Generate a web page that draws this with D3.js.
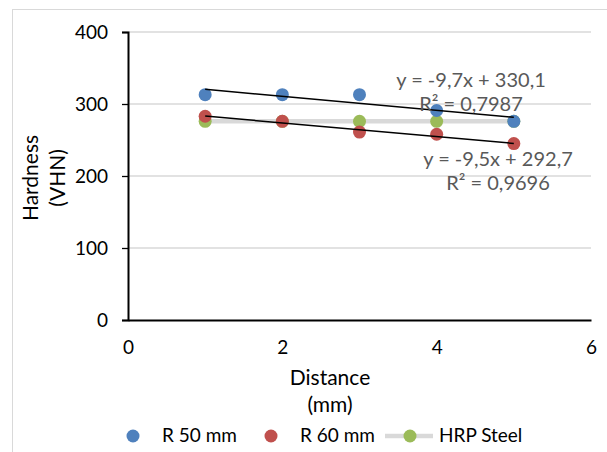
<!DOCTYPE html>
<html>
<head>
<meta charset="utf-8">
<script src="https://cdn.jsdelivr.net/npm/d3@7"></script>
<style>
  body { margin: 0; background: #fff; }
  svg { display: block; }
  text { font-family: Lato, "Open Sans", sans-serif; }
</style>
</head>
<body>
<svg id="chart" width="607" height="452"></svg>
<script>
// data
const distance = [1, 2, 3, 4, 5];
const r50 = [313, 313, 313, 291, 276];
const r60 = [283, 276, 261, 258, 245];
const hrp = [276, 276, 276, 276, 276];
const yTicks = [0, 100, 200, 300, 400];
const xTicks = [0, 2, 4, 6];
// trendlines [slope, intercept]
const trendR50 = [-9.7, 330.1];
const trendR60 = [-9.5, 292.7];
const trendLabels = [
  ["y = -9,7x + 330,1", "R² = 0,7987"],
  ["y = -9,5x + 292,7", "R² = 0,9696"]
];
const legendNames = ["R 50 mm", "R 60 mm", "HRP Steel"];

const colors = { r50: "#4f81bd", r60: "#c0504d", hrp: "#9bbb59" };

const svg = d3.select("#chart");

// outer chart border
svg.append("rect")
  .attr("x", 12.5).attr("y", 9.5)
  .attr("width", 620).attr("height", 460)
  .attr("fill", "none").attr("stroke", "#d9d9d9");

const margin = { left: 128, top: 32, right: 591, bottom: 320 };
const x = d3.scaleLinear().domain([0, 6]).range([margin.left, margin.right]);
const y = d3.scaleLinear().domain([0, 400]).range([margin.bottom, margin.top]);

// gridlines
svg.append("g")
  .selectAll("line")
  .data(yTicks.filter(d => d > 0))
  .join("line")
  .attr("x1", x(0)).attr("x2", x(6))
  .attr("y1", d => y(d)).attr("y2", d => y(d))
  .attr("stroke", "#d9d9d9").attr("stroke-width", 1.3);

// y axis
const yAxis = svg.append("g")
  .attr("transform", `translate(${x(0)},0)`)
  .call(d3.axisLeft(y).tickValues(yTicks).tickSize(6).tickPadding(14));
yAxis.select(".domain").attr("stroke", "#000").attr("stroke-width", 2);
yAxis.selectAll(".tick line").attr("stroke", "#000").attr("stroke-width", 1.3);
yAxis.selectAll(".tick text")
  .attr("font-size", 19).attr("fill", "#000")
  .attr("font-family", "Lato, sans-serif");

// x axis
const xAxis = svg.append("g")
  .attr("transform", `translate(0,${y(0)})`)
  .call(d3.axisBottom(x).tickValues(xTicks).tickFormat(d3.format("d"))
    .tickSize(0).tickPadding(21));
xAxis.select(".domain").attr("stroke", "#000").attr("stroke-width", 2);
xAxis.selectAll(".tick text")
  .attr("font-size", 19).attr("fill", "#000")
  .attr("font-family", "Lato, sans-serif");

// axis titles
svg.append("text")
  .attr("transform", "translate(38,178) rotate(-90)")
  .attr("text-anchor", "middle")
  .attr("font-size", 21)
  .text("Hardness");
svg.append("text")
  .attr("transform", "translate(65,178) rotate(-90)")
  .attr("text-anchor", "middle")
  .attr("font-size", 21)
  .text("(VHN)");
svg.append("text")
  .attr("x", 330).attr("y", 385)
  .attr("text-anchor", "middle")
  .attr("font-size", 21)
  .text("Distance");
svg.append("text")
  .attr("x", 330).attr("y", 412)
  .attr("text-anchor", "middle")
  .attr("font-size", 21)
  .text("(mm)");

// HRP steel: gray line with green markers
const line = d3.line().x((d, i) => x(distance[i])).y(d => y(d));
svg.append("path")
  .datum(hrp)
  .attr("d", line)
  .attr("fill", "none")
  .attr("stroke", "#d9d9d9")
  .attr("stroke-width", 4.5);

function dots(values, color) {
  svg.append("g")
    .selectAll("circle")
    .data(values)
    .join("circle")
    .attr("cx", (d, i) => x(distance[i]))
    .attr("cy", d => y(d))
    .attr("r", 6.5)
    .attr("fill", color);
}
dots(hrp, colors.hrp);
dots(r50, colors.r50);
dots(r60, colors.r60);

// trendlines
[trendR50, trendR60].forEach(t => {
  const x0 = d3.min(distance), x1 = d3.max(distance);
  svg.append("line")
    .attr("x1", x(x0)).attr("y1", y(t[0] * x0 + t[1]))
    .attr("x2", x(x1)).attr("y2", y(t[0] * x1 + t[1]))
    .attr("stroke", "#000").attr("stroke-width", 1.5);
});

// trendline labels
const labelPos = [[471, 87], [498, 166]];
trendLabels.forEach((lines, k) => {
  lines.forEach((s, j) => {
    svg.append("text")
      .attr("x", labelPos[k][0])
      .attr("y", labelPos[k][1] + j * 24)
      .attr("text-anchor", "middle")
      .attr("font-size", 20)
      .attr("fill", "#595959")
      .text(s);
  });
});

// legend
const legend = svg.append("g");
const legX = [133, 271, 410];
const legTextX = [162, 300, 439];
const legColors = [colors.r50, colors.r60, colors.hrp];
legendNames.forEach((name, i) => {
  if (i === 2) {
    legend.append("line")
      .attr("x1", legX[i] - 25).attr("x2", legX[i] + 23)
      .attr("y1", 436).attr("y2", 436)
      .attr("stroke", "#d9d9d9").attr("stroke-width", 4.5);
  }
  legend.append("circle")
    .attr("cx", legX[i]).attr("cy", 436).attr("r", 6.5)
    .attr("fill", legColors[i]);
  legend.append("text")
    .attr("x", legTextX[i]).attr("y", 442)
    .attr("font-size", 19)
    .text(name);
});
</script>
</body>
</html>
